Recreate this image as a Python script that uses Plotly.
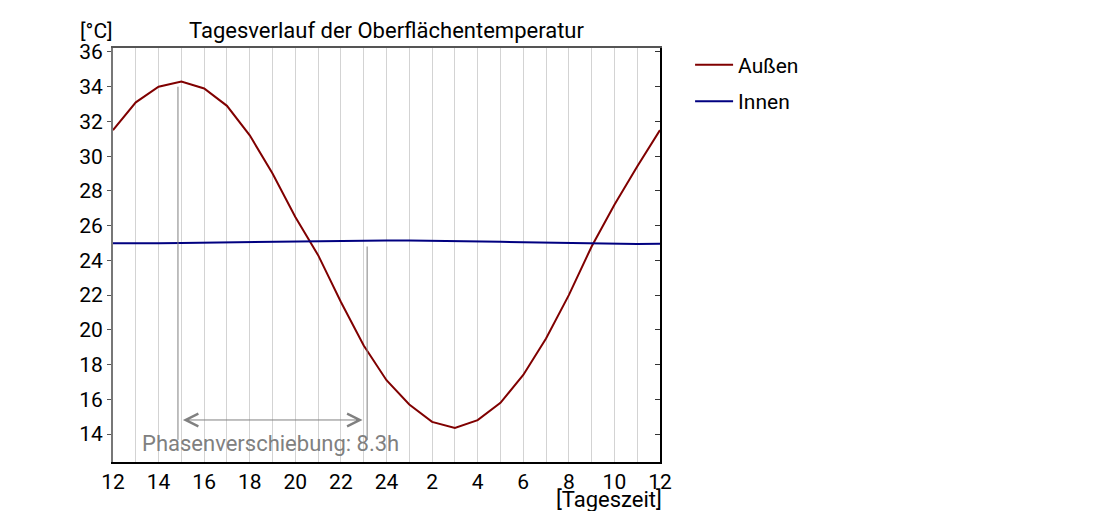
import plotly.graph_objects as go

# Stunden 12 Uhr mittags bis 12 Uhr am Folgetag
stunden = list(range(12, 37))
aussen = [31.5, 33.1, 34.0, 34.3, 33.9, 32.9, 31.2, 29.0, 26.5, 24.3, 21.6, 19.1,
          17.1, 15.7, 14.7, 14.35, 14.8, 15.8, 17.4, 19.5, 22.0, 24.8, 27.2, 29.4, 31.5]
innen = [24.98, 24.97, 24.98, 25.0, 25.02, 25.04, 25.06, 25.08, 25.1, 25.12, 25.13, 25.14,
         25.15, 25.15, 25.14, 25.12, 25.1, 25.07, 25.04, 25.02, 24.99, 24.97, 24.96, 24.95, 24.96]

tick_pos = list(range(12, 37, 2))
tick_text = ["12", "14", "16", "18", "20", "22", "24", "2", "4", "6", "8", "10", "12"]

# Phasenverschiebung
peak_aussen = 14.85
peak_innen = 23.15
max_aussen = 34.0
max_innen = 24.8
linie_unten = 13.66
pfeil_y = 14.81

font = "Roboto"
grau = "#808080"
y_range = [12.39, 36.23]

fig = go.Figure()
fig.add_trace(go.Scatter(x=stunden, y=aussen, mode="lines", name="Außen",
                         line=dict(color="#800000", width=2), legendgroup="a"))
fig.add_trace(go.Scatter(x=stunden, y=innen, mode="lines", name="Innen",
                         line=dict(color="#000080", width=2), legendgroup="b"))

for px, py in [(peak_aussen, max_aussen), (peak_innen, max_innen)]:
    fig.add_shape(type="line", x0=px, x1=px, y0=linie_unten, y1=py,
                  xref="x", yref="y", line=dict(color=grau, width=1))

fig.add_annotation(x=peak_innen - 0.2, y=pfeil_y, ax=peak_aussen + 0.15, ay=pfeil_y,
                   xref="x", yref="y", axref="x", ayref="y", text="",
                   showarrow=True, arrowhead=5, arrowside="end+start",
                   arrowsize=2.5, arrowwidth=1, arrowcolor=grau)
fig.add_annotation(x=(peak_aussen + peak_innen) / 2 - 0.1, y=13.43, xref="x", yref="y",
                   text="Phasenverschiebung: %.1fh" % (peak_innen - peak_aussen),
                   showarrow=False, font=dict(family=font, size=22, color=grau))

fig.add_annotation(x=0, y=1, xref="paper", yref="paper", xanchor="right", yanchor="bottom",
                   text="[°C]", showarrow=False, xshift=2, yshift=3,
                   font=dict(family=font, size=21, color="black"))
fig.add_annotation(x=1, y=0, xref="paper", yref="paper", xanchor="right", yanchor="top",
                   text="[Tageszeit]", showarrow=False, xshift=4, yshift=-23,
                   font=dict(family=font, size=22, color="black"))

# Seite hat 8px Rand im Browser -> Raender entsprechend verschoben
fig.update_layout(
    width=1100, height=511,
    margin=dict(l=105, r=448, t=40, b=57),
    paper_bgcolor="white", plot_bgcolor="white",
    font=dict(family=font, size=21, color="black"),
    title=dict(text="Tagesverlauf der Oberflächentemperatur", x=(105 + 652) / 2 / 1100,
               xanchor="center", y=1 - 22 / 511, yanchor="middle", automargin=False,
               font=dict(family=font, size=22, color="black")),
    showlegend=True,
    legend=dict(x=1.055, y=1.008, xanchor="left", yanchor="top", tracegroupgap=6,
                itemwidth=38,
                font=dict(family=font, size=21, color="black"), bgcolor="rgba(0,0,0,0)"),
    xaxis=dict(range=[12, 36], tickvals=tick_pos, ticktext=tick_text, showgrid=True,
               gridcolor="#d3d3d3", gridwidth=1, automargin=False,
               minor=dict(dtick=1, tick0=12, showgrid=True, gridcolor="#d3d3d3", gridwidth=1),
               showline=True, linecolor="black", linewidth=2, mirror=False,
               ticks="", zeroline=False, tickfont=dict(size=21)),
    xaxis2=dict(range=[12, 36], overlaying="x", side="top", showline=True, automargin=False,
                linecolor="#555555", linewidth=2, showticklabels=False, showgrid=False,
                ticks="", zeroline=False),
    yaxis=dict(range=y_range, dtick=2, tick0=14, showgrid=False, zeroline=False,
               showline=True, linecolor="#777777", linewidth=2, ticks="outside",
               automargin=False, ticklen=4, tickcolor="#555555", tickfont=dict(size=21)),
    yaxis2=dict(range=y_range, dtick=2, tick0=14, overlaying="y", side="right",
                showgrid=False, zeroline=False, showline=True, linecolor="black",
                linewidth=2, ticks="inside", ticklen=5, tickcolor="#333333",
                automargin=False, showticklabels=False),
)
# Hilfsspur fuer die zweiten Achsen (oben, rechts)
fig.add_trace(go.Scatter(x=[12], y=[25], xaxis="x2", yaxis="y2", mode="markers",
                         marker=dict(opacity=0), showlegend=False, hoverinfo="skip"))

fig.write_html("out.html")
